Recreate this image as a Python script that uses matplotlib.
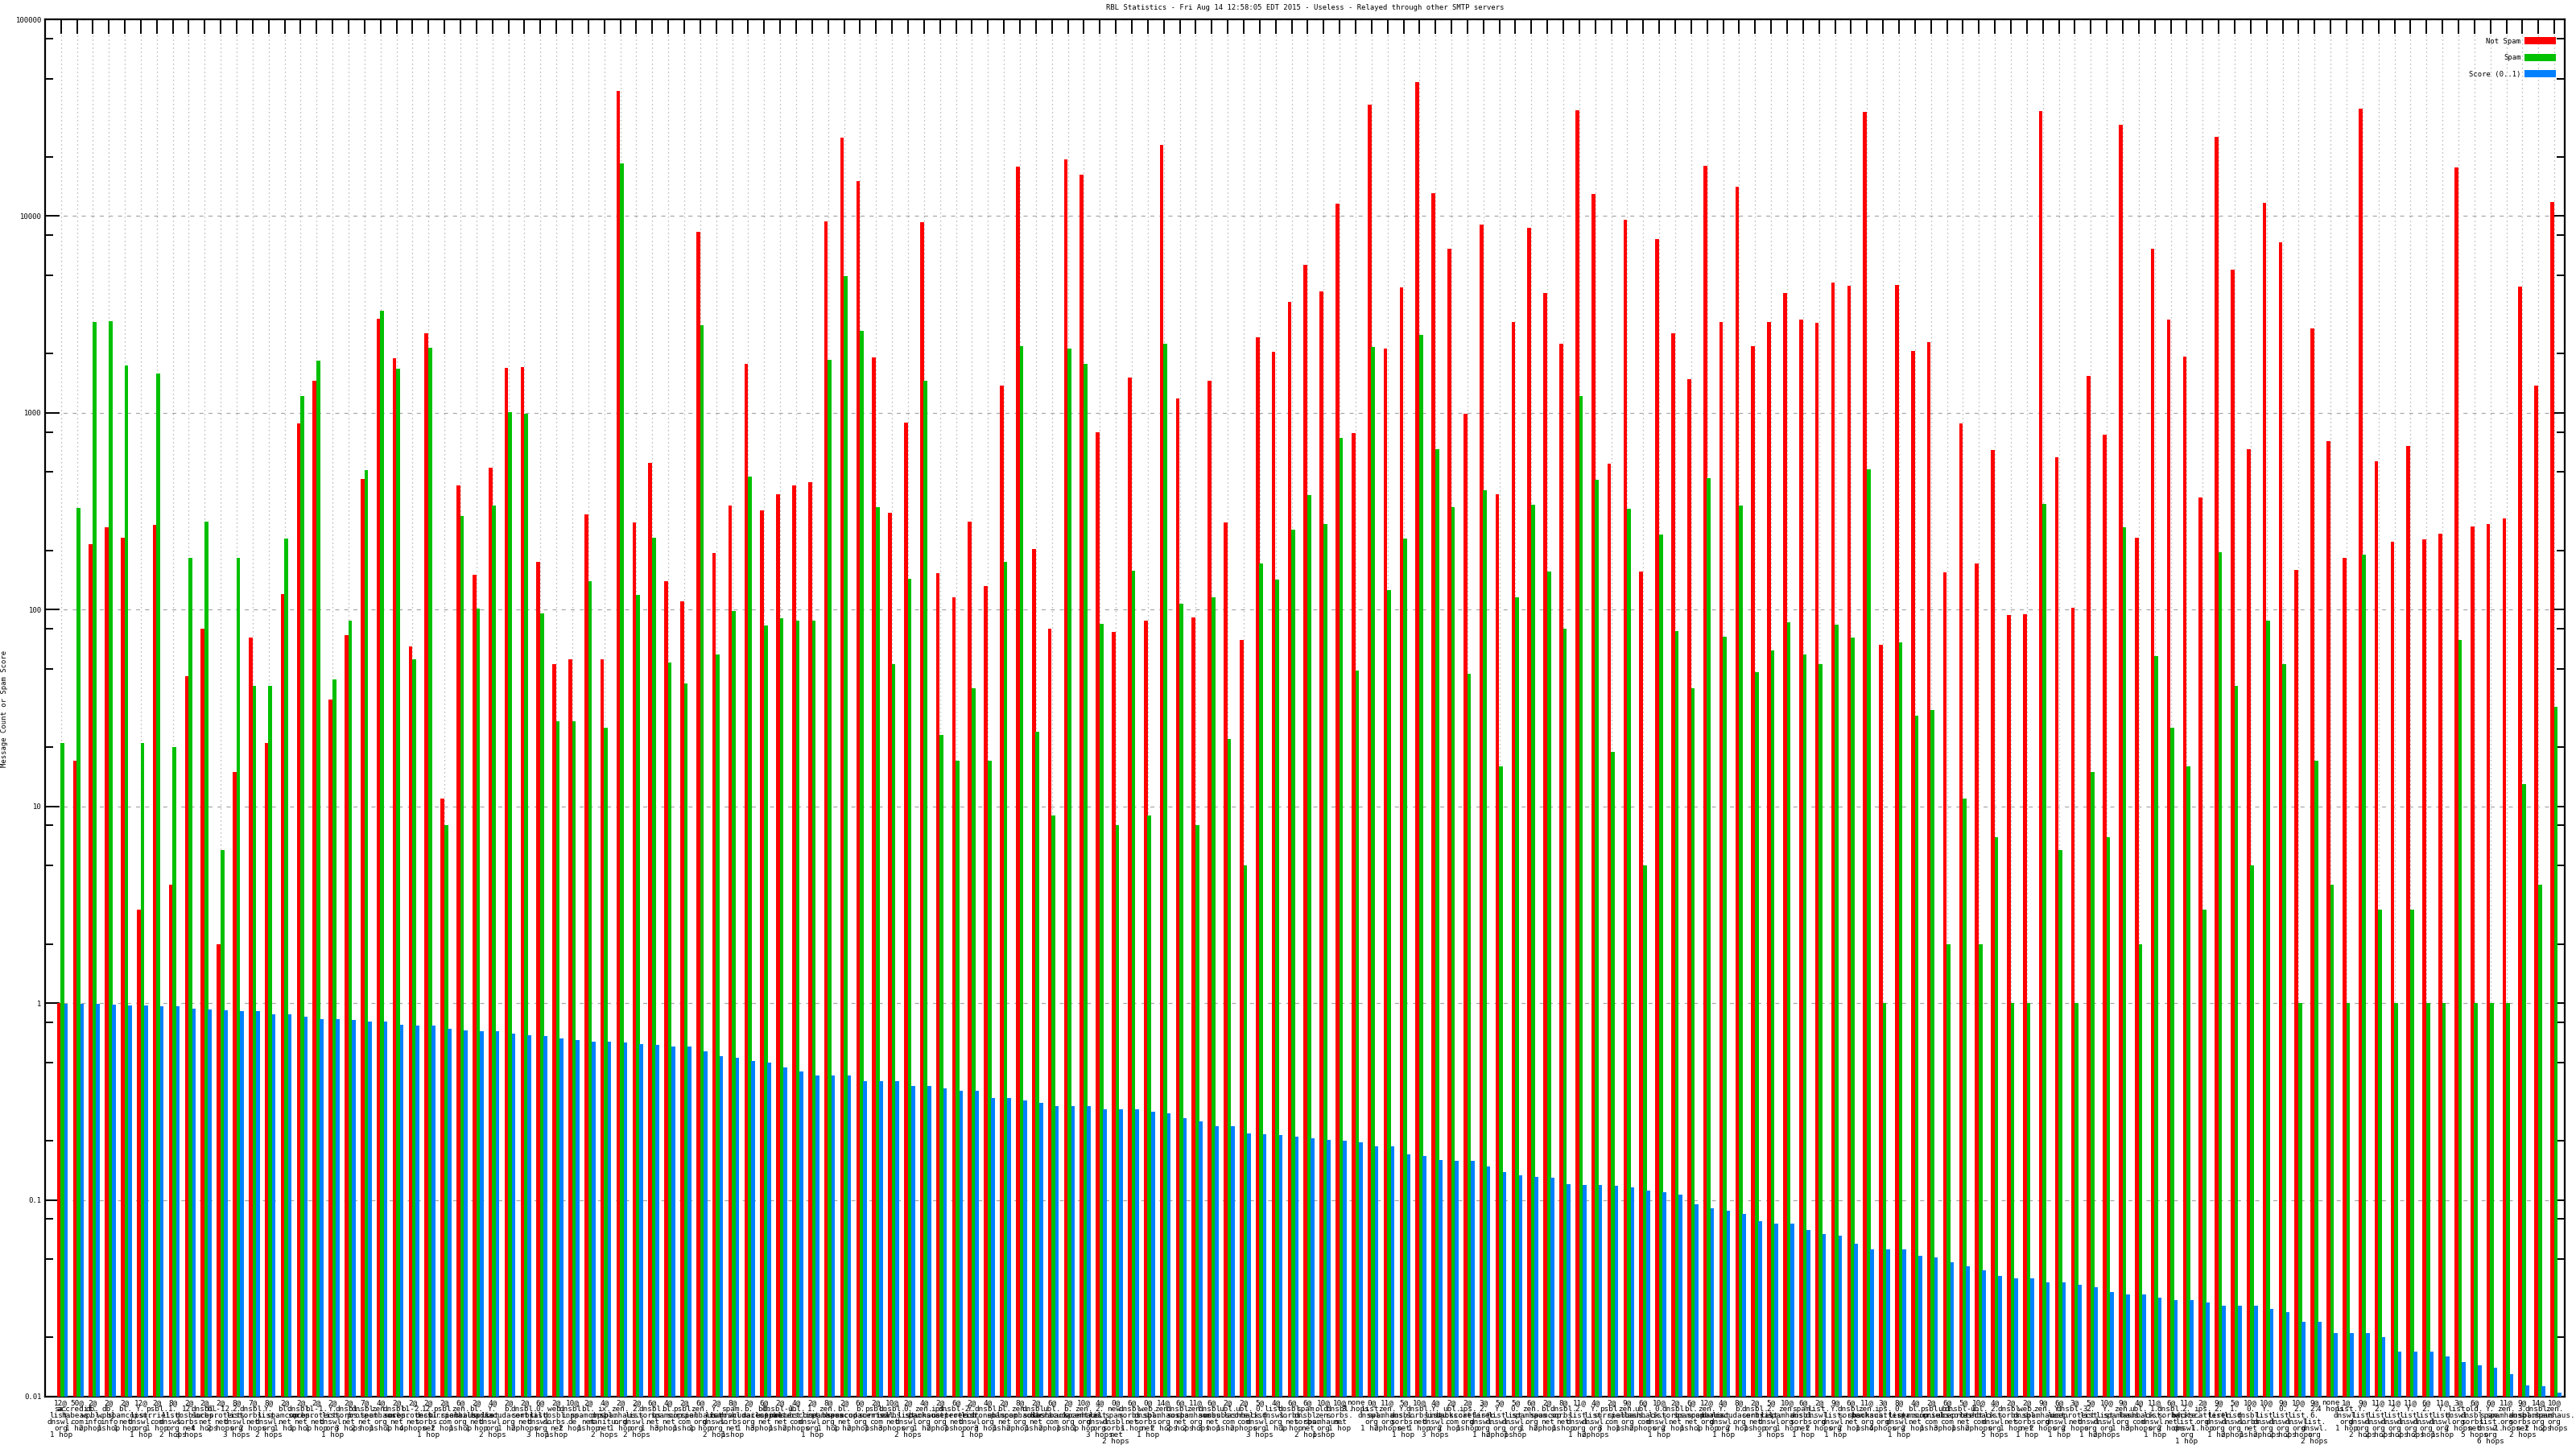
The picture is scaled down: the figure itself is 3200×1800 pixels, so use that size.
import matplotlib
matplotlib.use("Agg")
import matplotlib.pyplot as plt
from matplotlib.patches import Patch
from matplotlib.ticker import LogLocator, NullFormatter
import numpy as np

title = "RBL Statistics - Fri Aug 14 12:58:05 EDT 2015 - Useless - Relayed through other SMTP servers"

not_spam = [1, 17, 215, 261, 231, 3, 269, 4, 46, 80, 2, 15, 72, 21, 120, 883, 1450, 35, 74, 461,
            3020, 1897, 65, 2535, 11, 428, 150, 527, 1694, 1711, 175,
            53, 56, 305, 56, 43300, 278, 555, 139, 110, 8300, 194, 338, 1782, 318, 387, 428, 446, 9400,
            25000, 15100, 1918, 311, 893, 9300, 153, 116, 281, 132, 1377, 17800, 204, 80,
            19400, 16300, 796, 77, 1510, 88, 23100, 1180, 91, 1450, 278, 70, 2430, 2040, 3670, 5670,
            4160, 11550, 789, 36700, 2120, 4340, 48000, 13080, 6820, 990, 9020, 387, 2900, 8740, 4070, 2240,
            34500, 12950, 550, 9600, 156, 7640, 2535, 1480, 18000, 2900, 14060, 2190, 2900, 4070, 2990,
            2870, 4610, 4430, 33800, 66, 4470, 2060, 2285, 154, 883, 171, 649, 94, 95, 34200, 597, 102,
            1543, 773, 29200, 231, 6820, 2990, 1936, 371, 25300, 5320, 655, 11670, 7330, 159, 2690, 719,
            184, 35200, 566, 221, 676, 228, 243, 17700, 264, 272, 290, 4380, 1377, 11800]

spam = [21, 328, 2900, 2930, 1745, 21, 1590, 20, 184, 280, 6, 184, 41, 41, 229, 1215, 1840, 44, 88, 512,
        3310, 1675, 56, 2150, 8, 299, 101, 338, 1009, 990, 96,
        27, 27, 139, 25, 18600, 119, 231, 54, 42, 2780, 59, 98, 475, 83, 90, 88, 88, 1860, 4950, 2610,
        331, 53, 144, 1450, 23, 17, 40, 17, 175, 2190, 24, 9,
        2120, 1766, 85, 8, 157, 9, 2240, 107, 8, 116, 22, 5, 171, 142, 254, 383, 272, 748, 49, 2170,
        126, 229, 2480, 654, 331, 47, 403, 16, 116, 342, 156, 80,
        1215, 456, 19, 324, 5, 240, 78, 40, 466, 73, 338, 48, 62, 86, 59, 53, 84, 72, 517, 1, 68, 29,
        31, 2, 11, 2, 7, 1, 1, 345, 6, 1,
        15, 7, 261, 2, 58, 25, 16, 3, 196, 41, 5, 88, 53, 1, 17, 4, 1, 190, 3, 1, 3, 1, 1, 70, 1, 1, 1,
        13, 4, 32]

score = [0.99, 0.99, 0.99, 0.98, 0.97, 0.97, 0.96, 0.96, 0.94, 0.93, 0.92, 0.91, 0.91, 0.88, 0.88,
         0.85, 0.83, 0.83, 0.82, 0.81, 0.81, 0.78, 0.77, 0.77, 0.74, 0.73, 0.72, 0.72, 0.70, 0.69, 0.68,
         0.66, 0.65, 0.64, 0.635, 0.63, 0.62, 0.615, 0.60, 0.60, 0.57, 0.54, 0.53, 0.51, 0.50, 0.47,
         0.45, 0.43, 0.43, 0.43, 0.40, 0.40, 0.40, 0.38, 0.38, 0.37, 0.36, 0.36, 0.33, 0.33, 0.32, 0.31, 0.30,
         0.30, 0.30, 0.29, 0.29, 0.29, 0.28, 0.275, 0.26, 0.25, 0.236, 0.236, 0.217, 0.215, 0.213, 0.21,
         0.206, 0.202, 0.20, 0.196, 0.188, 0.187, 0.17, 0.167, 0.16, 0.158, 0.158, 0.148, 0.138, 0.134,
         0.131, 0.13, 0.12,
         0.119, 0.119, 0.118, 0.116, 0.111, 0.109, 0.106, 0.095, 0.091, 0.088, 0.085, 0.078, 0.076,
         0.076, 0.070, 0.067, 0.066, 0.060, 0.056, 0.056, 0.056, 0.052, 0.051, 0.048, 0.046, 0.044,
         0.041, 0.040, 0.040, 0.038, 0.038, 0.037,
         0.036, 0.034, 0.033, 0.033, 0.032, 0.031, 0.031, 0.030, 0.029, 0.029, 0.029, 0.028, 0.027,
         0.024, 0.024, 0.021, 0.021, 0.021, 0.020, 0.017, 0.017, 0.017, 0.016, 0.015, 0.0145, 0.014,
         0.013, 0.0114, 0.0113, 0.0105]

labels = [
    "12@ sa.list.dnswl.org 1 hop", "50@ accredit.habeas.com 1 hop", "2@ db.wpbl.info 2 hops",
    "2@ db.wpbl.info 1 hop", "2@ bl.spamcop.net 1 hop", "12@ Y.list.dnswl.org 1 hop",
    "2@ psbl.surriel.com 1 hop", "8@ 1.list.dnswl.org 2 hops", "2@ 12.dnsbl.sorbs.net 3 hops",
    "2@ dnsbl.sorbs.net 4 hops", "2@ bl-12.uceprotect.net 2 hops", "8@ 2.list.dnswl.org 3 hops",
    "7@ dnsbl.sorbs.net 2 hops", "8@ Y.list.dnswl.org 2 hops", "2@ bl.spamcop.net 1 hop",
    "2@ dnsbl.sorbs.net 1 hop", "2@ bl-1.uceprotect.net 1 hop", "2@ Y.list.dnswl.org 1 hop",
    "2@ dnsbl.sorbs.net 3 hops", "7@ dnsbl.protect.net 2 hops", "4@ zen.spamhaus.org 1 hop",
    "2@ dnsbl.sorbs.net 1 hop", "2@ bl-2.uceprotect.net 4 hops", "2@ 12.dnsbl.sorbs.net 1 hop",
    "2@ psbl.surriel.com 2 hops", "6@ zen.spamhaus.org 1 hop", "2@ bl.mailspike.net 1 hop",
    "4@ Y.list.dnswl.org 2 hops", "2@ b.barracudacentral.org 1 hop", "2@ dnsbl.sorbs.net 2 hops",
    "6@ 0.list.dnswl.org 3 hops", "2@ web.dnsbl.sorbs.net 1 hop", "10@ dnsbl.inps.de 2 hops",
    "2@ bl.spamcop.net 1 hop", "4@ ix.dnsbl.manitu.net 2 hops", "2@ zen.spamhaus.org 1 hop",
    "2@ 2.list.dnswl.org 2 hops", "6@ dnsbl.sorbs.net 1 hop", "4@ bl.spamcop.net 3 hops",
    "2@ psbl.surriel.com 1 hop", "6@ zen.spamhaus.org 1 hop", "2@ Y.list.dnswl.org 2 hops",
    "8@ spam.dnsbl.sorbs.net 1 hop", "2@ b.barracudacentral.org 1 hop", "6@ bl.mailspike.net 3 hops",
    "2@ dnsbl-1.uceprotect.net 1 hop", "4@ ubl.unsubscore.com 2 hops", "2@ 1.list.dnswl.org 1 hop",
    "8@ zen.spamhaus.org 1 hop", "2@ bl.spamcop.net 1 hop", "6@ b.barracudacentral.org 2 hops",
    "2@ psbl.surriel.com 1 hop", "10@ dnsbl.sorbs.net 3 hops", "2@ 0.list.dnswl.org 2 hops",
    "4@ zen.spamhaus.org 1 hop", "2@ ips.backscatterer.org 2 hops", "6@ dnsbl-2.uceprotect.net 1 hop",
    "2@ Y.list.dnswl.org 1 hop", "4@ dnsbl.dronebl.org 3 hops", "2@ bl.spamcop.net 1 hop",
    "8@ zen.spamhaus.org 2 hops", "2@ dnsbl.sorbs.net 1 hop", "6@ ubl.lashback.com 2 hops",
    "2@ b.barracudacentral.org 1 hop", "10@ zen.spamhaus.org 1 hop", "4@ 2.list.dnswl.org 3 hops",
    "0@ new.spam.dnsbl.sorbs.net 2 hops", "6@ dnsbl.sorbs.net 1 hop", "0@ web.dnsbl.sorbs.net 1 hop",
    "14@ zen.spamhaus.org 2 hops", "6@ dnsbl.sorbs.net 2 hops", "11@ zen.spamhaus.org 2 hops",
    "6@ dnsbl.sorbs.net 3 hops", "2@ ubl.unsubscore.com 1 hop", "2@ ubl.lashback.com 2 hops",
    "5@ 0.list.dnswl.org 3 hops", "4@ list.dnswl.org 1 hop", "6@ dnsbl.sorbs.net 1 hop",
    "6@ spam.dnsbl.sorbs.net 2 hops", "10@ old.zen.spamhaus.org 1 hop", "10@ dnsbl.sorbs.net 1 hop",
    "none - 3 hops", "0@ list.dnswl.org 1 hop", "11@ zen.spamhaus.org 2 hops",
    "5@ Y.dnsbl.sorbs.net 1 hop", "10@ dnsbl.sorbs.net 1 hop", "4@ Y.list.dnswl.org 3 hops",
    "2@ ubl.unsubscore.com 2 hops", "2@ ips.backscatterer.org 1 hop", "3@ 2.list.dnswl.org 1 hop",
    "5@ Y.list.dnswl.org 2 hops", "5@ 0.list.dnswl.org 1 hop", "6@ zen.spamhaus.org 1 hop",
    "2@ bl.spamcop.net 2 hops", "8@ dnsbl.sorbs.net 1 hop", "11@ 2.list.dnswl.org 1 hop",
    "4@ Y.list.dnswl.org 2 hops", "2@ psbl.surriel.com 3 hops", "9@ zen.spamhaus.org 1 hop",
    "6@ ubl.lashback.com 2 hops", "10@ 0.list.dnswl.org 1 hop", "2@ dnsbl.sorbs.net 2 hops",
    "6@ bl.spamcop.net 1 hop", "12@ zen.spamhaus.org 1 hop", "4@ Y.list.dnswl.org 1 hop",
    "8@ b.barracudacentral.org 2 hops", "2@ dnsbl.sorbs.net 1 hop", "5@ 2.list.dnswl.org 3 hops",
    "10@ zen.spamhaus.org 1 hop", "6@ spam.dnsbl.sorbs.net 1 hop", "2@ list.dnswl.org 2 hops",
    "9@ Y.list.dnswl.org 1 hop", "6@ dnsbl.sorbs.net 2 hops", "11@ zen.spamhaus.org 1 hop",
    "3@ ips.backscatterer.org 4 hops", "8@ 0.list.dnswl.org 1 hop", "4@ bl.spamcop.net 2 hops",
    "2@ psbl.surriel.com 1 hop", "6@ ubl.unsubscore.com 3 hops", "5@ dnsbl-1.uceprotect.net 1 hop",
    "10@ ubl.lashback.com 2 hops", "4@ 2.list.dnswl.org 5 hops", "2@ dnsbl.sorbs.net 1 hop",
    "2@ web.dnsbl.sorbs.net 1 hop", "9@ zen.spamhaus.org 2 hops", "6@ Y.list.dnswl.org 1 hop",
    "3@ dnsbl-3.uceprotect.net 2 hops", "5@ 2.list.dnswl.org 1 hop", "10@ Y.list.dnswl.org 2 hops",
    "9@ zen.spamhaus.org 1 hop", "4@ ubl.lashback.com 3 hops", "11@ 1.list.dnswl.org 1 hop",
    "6@ dnsbl.sorbs.net 2 hops", "11@ 2.white.list.dnswl.org 1 hop", "2@ ips.backscatterer.org 1 hop",
    "9@ 2.list.dnswl.org 1 hop", "5@ 1.list.dnswl.org 2 hops", "10@ 0.dnsbl.sorbs.net 1 hop",
    "10@ Y.list.dnswl.org 2 hops", "9@ 0.list.dnswl.org 2 hops", "10@ 2.list.dnswl.org 2 hops",
    "9@ 2.6.list.dnswl.org 2 hops", "none - 4 hops", "1@ list.dnswl.org 1 hop",
    "9@ Y.list.dnswl.org 2 hops", "11@ 2.list.dnswl.org 2 hops", "11@ 2.list.dnswl.org 2 hops",
    "11@ Y.list.dnswl.org 2 hops", "6@ 2.list.dnswl.org 2 hops", "11@ Y.list.dnswl.org 1 hop",
    "3@ list.dnswl.org 2 hops", "6@ old.dnsbl.sorbs.net 5 hops", "6@ Y.spam.list.dnswl.org 6 hops",
    "11@ zen.spamhaus.org 2 hops", "9@ 3.dnsbl.sorbs.net 2 hops", "14@ dnsbl.spamhaus.org 2 hops",
    "10@ zen.spamhaus.org 2 hops",
]


def wrap(lbl):
    # "12@ list.dnswl.org 1 hop" -> one line per host part, like the original
    parts = lbl.split(" ")
    head, host, hops = parts[0], parts[1], " ".join(parts[2:])
    lines = [head]
    if host != "-":
        bits = host.split(".")
        lines += [b + "." for b in bits[:-1]] + [bits[-1]]
    lines.append(hops)
    return "\n".join(lines)


W, H = 3200, 1800
fig = plt.figure(figsize=(16, 9), dpi=200)
left, right, top, bottom = 56, 3186, 24, 1735
ax = fig.add_axes([left / W, 1 - bottom / H, (right - left) / W, (bottom - top) / H])

mono = "DejaVu Sans Mono"
n = len(not_spam)
x = np.arange(n)
bw = 0.235
base = 0.01

ax.bar(x - 0.13, np.array(not_spam) - base, bw, bottom=base, color="#ff0000", linewidth=0, zorder=3)
ax.bar(x + 0.10, np.array(spam) - base, bw, bottom=base, color="#00c000", linewidth=0, zorder=3)
ax.bar(x + 0.32, np.array(score) - base, bw, bottom=base, color="#0080ff", linewidth=0, zorder=3)

ax.set_yscale("log")
ax.set_ylim(0.01, 100000)
ax.set_xlim(-0.99, n - 1 + 0.65)

yt = [0.01, 0.1, 1, 10, 100, 1000, 10000, 100000]
ax.set_yticks(yt)
ax.set_yticklabels(["0.01", "0.1", "1", "10", "100", "1000", "10000", "100000"],
                   family=mono, fontsize=3.2)
ax.yaxis.set_minor_locator(LogLocator(base=10, subs=(2, 5, 8)))
ax.yaxis.set_minor_formatter(NullFormatter())

ax.set_xticks(x)
ax.set_xticklabels([wrap(l) for l in labels], family=mono, fontsize=3.4,
                   linespacing=0.85, va="top", ha="center")

ax.tick_params(axis="both", which="major", direction="in", length=6.5, width=0.7,
               top=True, right=True, pad=1.5)
ax.tick_params(axis="y", which="minor", direction="in", length=3.6, width=0.7, right=True)
ax.tick_params(axis="x", pad=1.2)

ax.grid(axis="x", which="major", color="#a8a8a8", linestyle=(0, (1, 3)), linewidth=0.45, zorder=1)
ax.grid(axis="y", which="major", color="#a8a8a8", linestyle=(0, (4, 5)), linewidth=0.45, zorder=1)
ax.set_axisbelow(True)

for s in ax.spines.values():
    s.set_linewidth(0.8)

fig.text(1621 / W, 1 - 10 / H, title, ha="center", va="center", family=mono, fontsize=3.2)
fig.text(6 / W, 1 - 880 / H, "Message Count or Spam Score", rotation=90,
         ha="center", va="center", family=mono, fontsize=3.2)

handles = [Patch(facecolor="#ff0000", label="Not Spam"),
           Patch(facecolor="#00c000", label="Spam"),
           Patch(facecolor="#0080ff", label="Score (0..1)")]
leg = ax.legend(handles=handles, loc="upper right", markerfirst=False, frameon=False,
                prop={"family": mono, "size": 3.2}, handlelength=4.4, handleheight=1.2,
                labelspacing=1.25, handletextpad=0.5, borderpad=0, borderaxespad=0,
                bbox_to_anchor=((3175 - left) / (right - left), (bottom - 46) / (bottom - top)))

fig.savefig("out.png", dpi=200, facecolor="white")
